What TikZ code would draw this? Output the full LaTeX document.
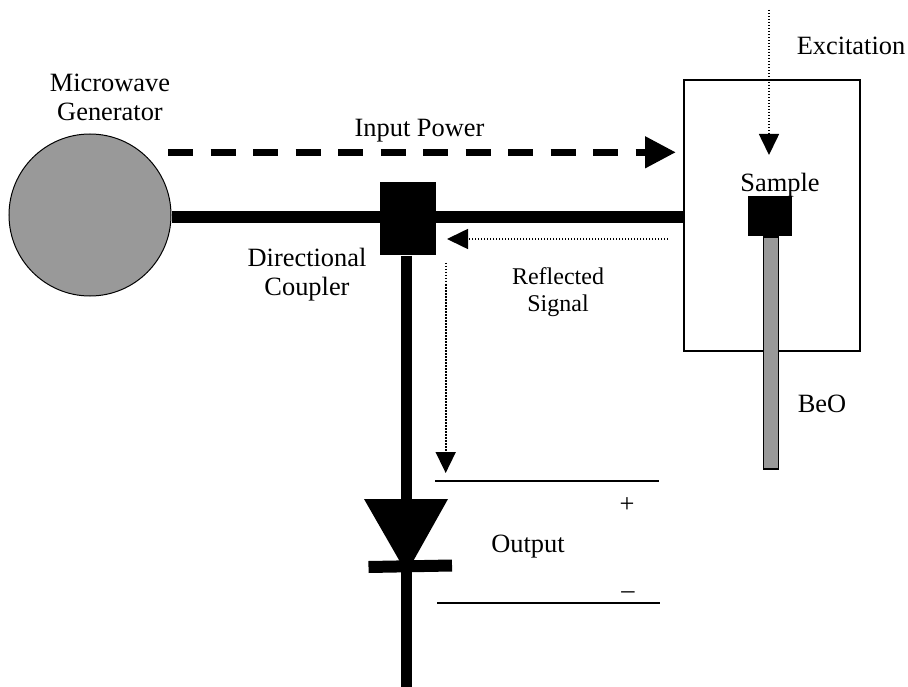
\documentclass[tikz,border=0pt]{standalone}
\usepackage{fontspec}
\setmainfont{Liberation Serif}
\usetikzlibrary{positioning,arrows.meta,calc}

\begin{document}
\begin{tikzpicture}[
    x=1pt, y=-1pt,
    font=\fontsize{26.4}{29.5}\selectfont,
    % ---- styles -------------------------------------------------
    label/.style={inner sep=0pt, align=center, text=black, anchor=base},
    small/.style={label, font=\fontsize{24}{28}\selectfont},
    block/.style={fill=black, inner sep=0pt},
    guide/.style={line width=7.5pt, draw=black},
    rail/.style={line width=1.6pt, draw=black},
    feed/.style={line width=11.5pt, draw=black},
    beam/.style={-{Triangle[length=21pt,width=20pt]}, line width=1.6pt,
        dash pattern=on 1.5pt off 1.5pt},
]
\useasboundingbox (0,0) rectangle (908,687);

% =================== components ===============================
\node[circle, draw=black, line width=1pt, fill=black!40, inner sep=0pt,
    minimum size=162pt] (generator) at (90,215) {};
\node[draw=black, line width=1.4pt, fill=white, inner sep=0pt,
    minimum width=176pt, minimum height=271pt] (cavity) at (772,215.5) {};
\node[block, minimum width=56pt, minimum height=73pt] (coupler) at (408,219) {};
\node[block, minimum width=44pt, minimum height=40pt] (sample) at (770,216) {};
\node[draw=black, line width=1.6pt, fill=black!40, inner sep=0pt,
    minimum width=15pt, minimum height=232pt, anchor=north] (rod) at ([xshift=1pt]sample.south) {};

% =================== transmission lines =======================
\coordinate (mainline) at (0,217.2);
\coordinate (bottom) at (406.7,687);
\draw[feed] (generator.east |- mainline) -- (coupler.west |- mainline);
\draw[feed] (coupler.east |- mainline) -- (cavity.west |- mainline);
\draw[feed] (coupler.south -| bottom) -- (bottom);

% =================== diode ====================================
\coordinate (diodeL) at (364,499);
\coordinate (diodeR) at (448,499);
\coordinate (diodeTip) at (406.5,573);
\fill (diodeL) -- (diodeR) -- (diodeTip) -- cycle;
\coordinate (barL) at (368.5,567);
\coordinate (barR) at (452,565.5);
\draw[line width=12pt] (barL) -- (barR);

% =================== output rails =============================
\coordinate (railA) at (435,481);
\coordinate (railB) at (659,481);
\coordinate (railC) at (437,603);
\coordinate (railD) at (660,603);
\draw[rail] (railA) -- (railB);
\draw[rail] (railC) -- (railD);

% =================== signal arrows ============================
\coordinate (powerA) at (168,152.3);
\coordinate (powerB) at (676,152.3);
\draw[guide, dash pattern=on 25pt off 17.5pt,
    -{Triangle[length=31pt,width=30pt]}] (powerA) -- (powerB);
\coordinate (reflectA) at (668,239);
\coordinate (reflectB) at (447,239);
\draw[beam] (reflectA) -- (reflectB);
\coordinate (detectA) at (445.7,263);
\coordinate (detectB) at (445.7,473);
\draw[beam] (detectA) -- (detectB);
\coordinate (exciteA) at (769,10);
\coordinate (exciteB) at (769,155);
\draw[beam] (exciteA) -- (exciteB);

% =================== labels ===================================
\node[label] (genlabel) at (110,121) {Microwave\\Generator};
\node[label] (powerlabel) at (419.5,137) {Input Power};
\node[label] (couplerlabel) at (307,295.5) {Directional\\Coupler};
\node[small] (reflectlabel) at (558,312) {Reflected\\Signal};
\node[label] (excitelabel) at (851,55) {Excitation};
\node[label] (samplelabel) at (780,192) {Sample};
\node[label] (beolabel) at (822,412) {BeO};
\node[label] (outlabel) at (528,552) {Output};
\node[label] (pluslabel) at (627,512) {+};
\node[label] (minuslabel) at (628,598) {--};

\end{tikzpicture}
\end{document}
